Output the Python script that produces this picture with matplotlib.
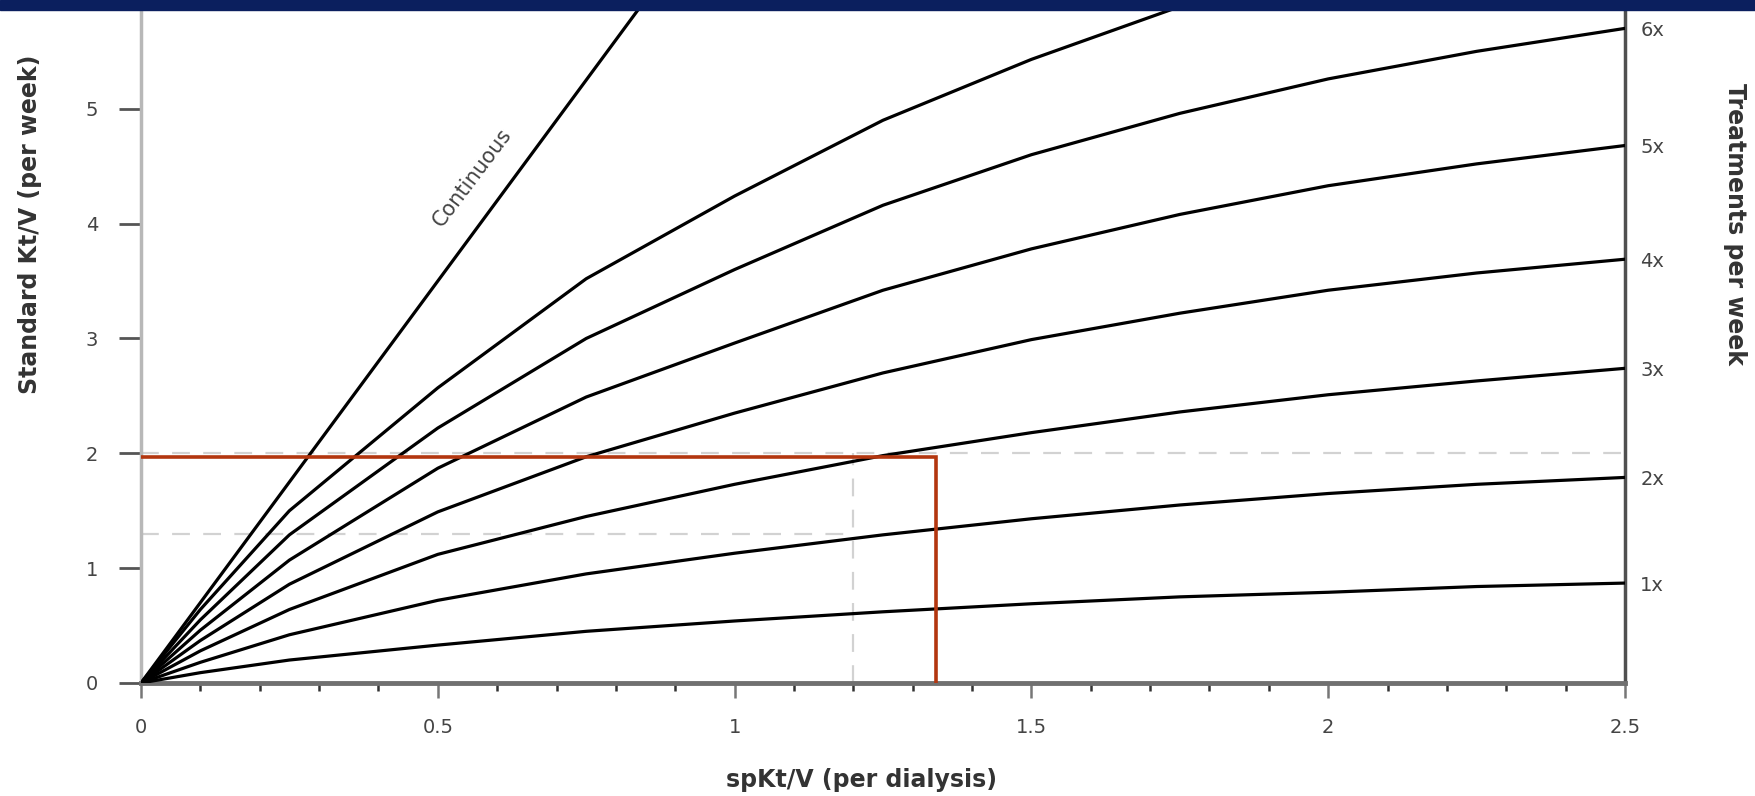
import matplotlib
matplotlib.use("Agg")
import matplotlib.pyplot as plt
from matplotlib.patches import Rectangle
from matplotlib.ticker import MultipleLocator, FixedLocator

# ---- data ----
sp_ktv = [0, 0.1, 0.25, 0.5, 0.75, 1.0, 1.25, 1.5, 1.75, 2.0, 2.25, 2.5]
std_1x = [0, 0.09, 0.20, 0.33, 0.45, 0.54, 0.62, 0.69, 0.75, 0.79, 0.84, 0.87]
std_2x = [0, 0.18, 0.42, 0.72, 0.95, 1.13, 1.29, 1.43, 1.55, 1.65, 1.73, 1.79]
std_3x = [0, 0.28, 0.64, 1.12, 1.45, 1.73, 1.98, 2.18, 2.36, 2.51, 2.63, 2.74]
std_4x = [0, 0.37, 0.86, 1.49, 1.97, 2.35, 2.70, 2.99, 3.22, 3.42, 3.57, 3.69]
std_5x = [0, 0.46, 1.07, 1.87, 2.49, 2.96, 3.42, 3.78, 4.08, 4.33, 4.52, 4.68]
std_6x = [0, 0.55, 1.29, 2.22, 3.00, 3.60, 4.16, 4.60, 4.96, 5.26, 5.50, 5.70]
sp_ktv_7x = [0, 0.1, 0.25, 0.5, 0.75, 1.0, 1.25, 1.5, 1.75, 2.0]
std_7x = [0, 0.64, 1.50, 2.57, 3.52, 4.24, 4.90, 5.43, 5.89, 6.25]
cont_x = [0, 0.5, 0.9]
cont_y = [0, 3.5, 6.3]

series = [std_1x, std_2x, std_3x, std_4x, std_5x, std_6x]
right_labels = ["1x", "2x", "3x", "4x", "5x", "6x"]
x_ticks = [0, 0.5, 1, 1.5, 2, 2.5]
x_tick_labels = ["0", "0.5", "1", "1.5", "2", "2.5"]
y_ticks = [0, 1, 2, 3, 4, 5]

guide_x = 1.2        # dashed vertical guide
guide_y_low = 1.3    # dashed horizontal guide (short)
guide_y_high = 2.0   # dashed horizontal guide (full)
red_x = 1.34         # red marker line
red_y = 1.97

W, H = 1756, 796
fig = plt.figure(figsize=(W / 100, H / 100), dpi=100)
fig.patch.set_facecolor("white")

x0, x1 = 141, 1625
yb, yt = 113, 786
ax = fig.add_axes([x0 / W, yb / H, (x1 - x0) / W, (yt - yb) / H])
ax.set_xlim(0, 2.5)
ax.set_ylim(0, 5.86)

# guides
dash_col = "#d2d2d2"
ax.plot([0, 2.5], [guide_y_high, guide_y_high], color=dash_col, lw=1.6,
        dashes=(8, 6), zorder=1)
ax.plot([0, guide_x], [guide_y_low, guide_y_low], color=dash_col, lw=1.6,
        dashes=(8, 6), zorder=1)
ax.plot([guide_x, guide_x], [0, guide_y_high], color=dash_col, lw=1.6,
        dashes=(8, 6), zorder=1)

# curves
for ys in series:
    ax.plot(sp_ktv, ys, color="black", lw=2.3, zorder=3)
ax.plot(sp_ktv_7x, std_7x, color="black", lw=2.3, zorder=3)
ax.plot(cont_x, cont_y, color="black", lw=2.3, zorder=3)

# red lines
ax.plot([0, red_x, red_x], [red_y, red_y, 0], color="#b3360f", lw=2.6,
        zorder=4, solid_joinstyle="miter")

ax.text(0.558, 4.40, "Continuous", rotation=53, ha="center", va="center",
        fontsize=15, color="#444444")

# spines
ax.spines["top"].set_visible(False)
ax.spines["left"].set_color("#b8b8b8")
ax.spines["left"].set_linewidth(2.5)
ax.spines["bottom"].set_color("#707070")
ax.spines["bottom"].set_linewidth(3.5)
ax.spines["right"].set_color("#505050")
ax.spines["right"].set_linewidth(2.5)

# x ticks
ax.xaxis.set_major_locator(FixedLocator(x_ticks))
ax.set_xticklabels(x_tick_labels)
ax.xaxis.set_minor_locator(MultipleLocator(0.1))
ax.tick_params(axis="x", which="major", direction="out", length=11, width=1.8,
               color="#777777", pad=14, labelsize=14, labelcolor="#444444")
ax.tick_params(axis="x", which="minor", direction="out", length=6, width=1.8,
               color="#333333")

# y ticks
ax.set_yticks(y_ticks)
ax.set_yticklabels([str(v) for v in y_ticks])
ax.tick_params(axis="y", which="major", direction="out", length=16, width=2,
               color="#555555", pad=15, labelsize=14, labelcolor="#444444")

# right axis labels
ax2 = ax.twinx()
ax2.set_ylim(ax.get_ylim())
ax2.set_yticks([s[-1] for s in series])
ax2.set_yticklabels(right_labels)
ax2.tick_params(axis="y", length=0, pad=11, labelsize=14, labelcolor="#444444")
for sp in ax2.spines.values():
    sp.set_visible(False)

# axis titles
fig.text(862 / W, 1 - 780 / H, "spKt/V (per dialysis)", ha="center",
         va="center", fontsize=17, fontweight="bold", color="#333333")
fig.text(30 / W, 1 - 224 / H, "Standard Kt/V (per week)", ha="center",
         va="center", rotation=90, fontsize=17, fontweight="bold",
         color="#333333")
fig.text(1735 / W, 1 - 224 / H, "Treatments per week", ha="center",
         va="center", rotation=270, fontsize=17, fontweight="bold",
         color="#333333")

# top band
fig.patches.append(Rectangle((0, 1 - 10 / H), 1, 10 / H,
                             transform=fig.transFigure, color="#0b1f5e",
                             zorder=10))

fig.savefig("out.png", dpi=100)
